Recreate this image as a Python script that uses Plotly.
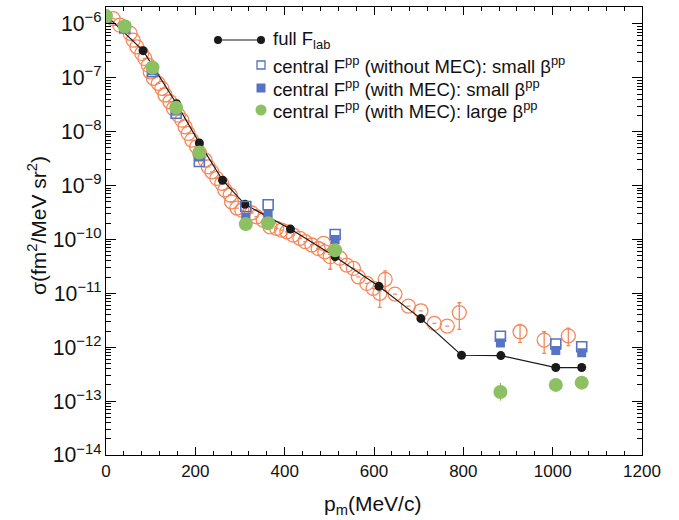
import plotly.graph_objects as go

# ---------------- data ----------------
# full F_lab (black line)
full_p = [0, 83, 158, 209, 261, 311, 413, 513, 611, 705, 796, 884, 1007, 1065]
full_s = [1.45e-6, 3.2e-7, 3.3e-8, 6.2e-9, 1.26e-9, 4.5e-10, 1.56e-10, 4.8e-11,
          1.35e-11, 3.4e-12, 7.1e-13, 7.0e-13, 4.2e-13, 4.2e-13]

# central F^pp (without MEC): small beta (open squares)
open_p = [0, 42, 104, 157, 209, 313, 363, 513, 883, 1007, 1065]
open_s = [1.3e-6, 8.4e-7, 1.3e-7, 2.2e-8, 2.8e-9, 4.1e-10, 4.4e-10, 1.24e-10,
          1.6e-12, 1.15e-12, 1.02e-12]

# central F^pp (with MEC): small beta (filled squares)
fill_p = [0, 42, 104, 157, 209, 313, 363, 513, 883, 1007, 1065]
fill_s = [1.35e-6, 8.7e-7, 1.35e-7, 2.5e-8, 3.4e-9, 2.6e-10, 3.0e-10, 1.0e-10,
          1.2e-12, 8.7e-13, 7.9e-13]

# central F^pp (with MEC): large beta (green circles)
large_p = [0, 42, 104, 157, 209, 313, 363, 513, 883, 1007, 1065]
large_s = [1.4e-6, 9.1e-7, 1.56e-7, 2.8e-8, 4.1e-9, 1.93e-10, 2.0e-10, 6.3e-11,
           1.48e-13, 2.0e-13, 2.2e-13]
large_eplus = [0, 0, 0, 0, 0, 0, 0, 0, 0.7e-13, 0, 0]
large_eminus = [0, 0, 0, 0, 0, 0.5e-10, 0, 0, 0.46e-13, 0, 0]

# experimental data (orange open circles)
exp_p = [16, 31, 54, 61, 69, 80, 87, 95, 99, 106, 117, 125, 132, 143, 151, 162,
         170, 177, 184, 192, 203, 210, 222, 229, 237, 248, 259, 266, 278, 281,
         293, 304, 326, 337, 352, 367, 382, 393, 405, 419, 434, 446, 461, 475,
         487, 490, 502, 524, 539, 554, 565, 584, 598, 613, 625, 647, 677, 705,
         735, 764, 791, 927, 981, 1035]
exp_s = [1.26e-6, 9.5e-7, 6.7e-7, 5.0e-7, 3.76e-7, 2.84e-7, 2.29e-7, 1.72e-7,
         1.29e-7, 9.8e-8, 7.9e-8, 6.4e-8, 4.8e-8, 3.6e-8, 2.7e-8, 2.03e-8,
         1.64e-8, 1.23e-8, 9.3e-9, 7.0e-9, 5.25e-9, 3.95e-9, 2.97e-9, 2.23e-9,
         1.8e-9, 1.36e-9, 1.1e-9, 8.3e-10, 6.7e-10, 5.0e-10, 3.83e-10, 3.5e-10,
         3.1e-10, 2.64e-10, 2.29e-10, 1.72e-10, 1.61e-10, 1.49e-10, 1.39e-10,
         1.21e-10, 1.05e-10, 9.1e-11, 7.9e-11, 6.8e-11, 8.5e-11, 5.9e-11, 4.8e-11,
         4.5e-11, 3.35e-11, 2.9e-11, 2.03e-11, 1.53e-11, 1.24e-11, 1.0e-11,
         1.82e-11, 9.7e-12, 5.8e-12, 4.75e-12, 2.77e-12, 2.47e-12, 4.4e-12,
         1.94e-12, 1.36e-12, 1.63e-12]
exp_eplus = [0] * 46 + [0.5e-11, 0, 0, 0, 0, 0, 0, 0.1e-11, 0.8e-11, 0, 0, 0,
                        0, 0, 2.3e-12, 0.72e-12, 0.58e-12, 0.62e-12]
exp_eminus = [0] * 46 + [2.0e-11, 0, 0, 0, 0, 0, 0, 0.45e-11, 0.7e-11, 0, 0, 0,
                         0, 0, 2.25e-12, 0.71e-12, 0.59e-12, 0.56e-12]

ORANGE = "#F5875A"
BLUE = "#5673C4"
GREEN = "#8CC063"
BLACK = "#1a1a1a"
FONT = "Liberation Sans, Arial, Helvetica, sans-serif"

fig = go.Figure()

fig.add_trace(go.Scatter(
    x=exp_p, y=exp_s, mode="markers",
    marker=dict(symbol="circle-open", size=14, color=ORANGE, line=dict(width=1.3, color=ORANGE)),
    error_y=dict(type="data", array=exp_eplus, arrayminus=exp_eminus, symmetric=False,
                 color=ORANGE, thickness=1.3, width=2),
    showlegend=False))

fig.add_trace(go.Scatter(
    x=full_p, y=full_s, mode="lines+markers",
    line=dict(color=BLACK, width=1.2),
    marker=dict(symbol="circle", size=9, color=BLACK),
    showlegend=False))

fig.add_trace(go.Scatter(
    x=open_p, y=open_s, mode="markers",
    marker=dict(symbol="square-open", size=10, color=BLUE, line=dict(width=1.6, color=BLUE)),
    showlegend=False))

fig.add_trace(go.Scatter(
    x=fill_p, y=fill_s, mode="markers",
    marker=dict(symbol="square", size=9, color=BLUE),
    showlegend=False))

fig.add_trace(go.Scatter(
    x=large_p, y=large_s, mode="markers",
    marker=dict(symbol="circle", size=14, color=GREEN),
    error_y=dict(type="data", array=large_eplus, arrayminus=large_eminus, symmetric=False,
                 color=GREEN, thickness=1.3, width=0),
    showlegend=False))

# ---------------- layout ----------------
W, H = 679, 520
L, R, T, B = 106, 37, 7, 65
PW, PH = W - L - R, H - T - B


def px(x):
    return (x - L) / PW


def py(y):
    return (H - B - y) / PH


shapes = []
annotations = []

legend_rows = [
    ("full F<sub>lab</sub>", 40),
    ("central F<sup>pp</sup> (without MEC): small β<sup>pp</sup>", 65),
    ("central F<sup>pp</sup> (with MEC): small β<sup>pp</sup>", 88),
    ("central F<sup>pp</sup> (with MEC): large β<sup>pp</sup>", 110),
]
for text, yy in legend_rows:
    annotations.append(dict(xref="paper", yref="paper", x=px(271), y=py(yy),
                            text=text, showarrow=False, xanchor="left", yanchor="middle",
                            font=dict(size=18.5, color="#111", family=FONT)))

# axis titles
annotations.append(dict(xref="paper", yref="paper", x=px(37), y=py(226),
                        text="σ(fm<sup>2</sup>/MeV sr<sup>2</sup>)", textangle=-90,
                        showarrow=False, xanchor="center", yanchor="middle",
                        font=dict(size=21, color="#111", family=FONT)))
annotations.append(dict(xref="paper", yref="paper", x=px(372), y=py(505),
                        text="p<sub>m</sub>(MeV/c)", showarrow=False,
                        xanchor="center", yanchor="middle",
                        font=dict(size=21, color="#111", family=FONT)))

# legend symbols
shapes.append(dict(type="line", xref="paper", yref="paper", x0=px(218), x1=px(261),
                   y0=py(40), y1=py(40), line=dict(color=BLACK, width=1.2)))
for cx in (218, 261):
    shapes.append(dict(type="circle", xref="paper", yref="paper", xsizemode="pixel", ysizemode="pixel",
                       xanchor=px(cx), yanchor=py(40), x0=-4, x1=4, y0=-4, y1=4,
                       fillcolor=BLACK, line=dict(width=0)))
shapes.append(dict(type="rect", xref="paper", yref="paper", xsizemode="pixel", ysizemode="pixel",
                   xanchor=px(261), yanchor=py(65), x0=-4, x1=4, y0=-4, y1=4,
                   fillcolor="white", line=dict(color=BLUE, width=1.3)))
shapes.append(dict(type="rect", xref="paper", yref="paper", xsizemode="pixel", ysizemode="pixel",
                   xanchor=px(261), yanchor=py(88), x0=-4.5, x1=4.5, y0=-4.5, y1=4.5,
                   fillcolor=BLUE, line=dict(width=0)))
shapes.append(dict(type="circle", xref="paper", yref="paper", xsizemode="pixel", ysizemode="pixel",
                   xanchor=px(261), yanchor=py(110), x0=-5.5, x1=5.5, y0=-5.5, y1=5.5,
                   fillcolor=GREEN, line=dict(width=0)))

axis_common = dict(showline=True, linecolor="black", linewidth=1.2, mirror="ticks",
                   ticks="inside", tickcolor="black", tickwidth=1, showgrid=False,
                   zeroline=False, tickfont=dict(size=17, color="#111", family=FONT))

fig.update_layout(
    width=W, height=H, autosize=False,
    margin=dict(l=L, r=R, t=T, b=B, pad=0),
    paper_bgcolor="white", plot_bgcolor="white",
    font=dict(family=FONT, color="#111"),
    shapes=shapes, annotations=annotations,
    showlegend=False,
    xaxis=dict(range=[0, 1200], dtick=200, tick0=0, ticklen=8,
               minor=dict(dtick=40, ticks="inside", ticklen=4, tickcolor="black"),
               **axis_common),
    yaxis=dict(type="log", range=[-14, -5.685], dtick=1, ticklen=10,
               exponentformat="power", showexponent="all",
               minor=dict(ticks="inside", ticklen=5, tickcolor="black"),
               **axis_common),
)

fig.write_html("out.html")
